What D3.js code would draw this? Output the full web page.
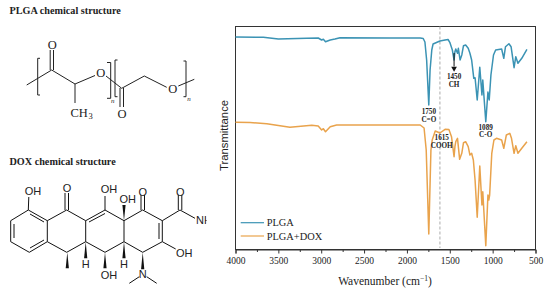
<!DOCTYPE html>
<html>
<head>
<meta charset="utf-8">
<script src="https://cdn.jsdelivr.net/npm/d3@7"></script>
<style>
  html, body { margin: 0; padding: 0; background: #fff; }
  svg { display: block; }
  text { font-family: "Liberation Serif", serif; fill: #222; }
</style>
</head>
<body>
<div id="chart"></div>
<script>
// Spectra: wavenumber (cm-1) and transmittance (arbitrary units, no scale on the figure)
const plgaWave = [4000, 3675, 3500, 3170, 3035, 2995, 2975, 2950, 2895, 2840, 2780, 2200, 1845, 1810, 1790, 1770, 1745, 1730, 1710, 1695, 1615, 1555, 1520, 1500, 1470, 1450, 1440, 1430, 1410, 1400, 1380, 1360, 1340, 1315, 1285, 1265, 1245, 1220, 1205, 1180, 1150, 1125, 1115, 1080, 1055, 1040, 1020, 990, 965, 895, 870, 850, 810, 785, 750, 730, 705, 660, 600];
const plgaT = [212.5, 212.2, 210.5, 211.2, 211.5, 209.5, 210.2, 207.8, 209.5, 210.5, 211.8, 211.5, 211.5, 211, 207.5, 189.5, 144.5, 179.5, 199.5, 205.5, 208.5, 209.5, 210, 207.2, 199.5, 189.5, 197.8, 200.5, 196.2, 201.2, 189.5, 194.5, 203.8, 204.5, 201.2, 196.2, 189.5, 171.2, 171.8, 149.5, 182.2, 154.5, 169.5, 127.8, 157.5, 149.5, 174.5, 194.5, 199.5, 200.5, 191.2, 202.8, 205.8, 202.8, 181.8, 192.8, 186.2, 191.2, 200.2];
const doxWave = [4000, 3830, 3635, 3365, 3110, 3035, 2995, 2975, 2950, 2895, 2820, 2315, 1845, 1800, 1775, 1745, 1720, 1705, 1670, 1615, 1555, 1510, 1480, 1450, 1440, 1430, 1410, 1385, 1360, 1340, 1315, 1285, 1265, 1245, 1225, 1205, 1180, 1150, 1125, 1115, 1080, 1055, 1045, 1035, 1010, 985, 955, 895, 870, 840, 800, 780, 750, 730, 705, 660, 600];
const doxT = [127.2, 127, 125.8, 122.2, 124.2, 123.5, 119.5, 120.8, 117.8, 122.8, 124.5, 124.5, 124.5, 121.5, 99.5, 15.5, 99.5, 109.5, 118.5, 116.5, 120.2, 120, 112.8, 92.8, 102.8, 107.8, 111.2, 90.2, 96.2, 106.8, 107.8, 102.8, 94.5, 96.2, 89.5, 69.5, 32.2, 83.5, 44.5, 57.8, 3.8, 54.5, 49.5, 54.5, 96.2, 109.5, 111.2, 109.5, 101.2, 114.5, 116.2, 111.2, 96.2, 103.8, 96.2, 101.2, 107.8];

const seriesNames = ["PLGA", "PLGA+DOX"];
const seriesColors = ["#3b93b4", "#e9a34c"];
const majorTicks = [4000, 3500, 3000, 2500, 2000, 1500, 1000, 500];
const minorTicks = [3750, 3250, 2750, 2250, 1750, 1250, 750];

// Peak labels: wavenumber, transmittance, first line, second line
const peakWave = [1750, 1450, 1089, 1615];
const peakT = [135.5, 170.5, 120, 109.5];
const peakLine1 = ["1750", "1450", "1089", "1615"];
const peakLine2 = ["C=O", "CH", "C-O", "COOH"];
const peakShift = [0.5, 0, 0.7, 1.8];

// Chemical drawings, plain line segments in page pixels
const plgaBonds = [
  [26.7,85,51.7,70],[50.2,70,50.2,50],[53.5,70,53.5,50],[51.7,70,75,84],[75,84,95,75.5],[75,84,75,103],
  [106,76,121.7,88.3],[120,88,120,107],[123.5,88,123.5,107],[121.7,88.3,144.3,76],[144.3,76,166.7,87.3],[178.3,86,194.3,79.3]
];
const plgaBrackets = [
  [40,58.3,37.7,58.3,37.7,95,40,95],[107,62.5,110.7,62.5,110.7,98.3,107,98.3],
  [117.5,60,115,60,115,96.7,117.5,96.7],[183.5,61,186,61,186,96.7,183.5,96.7]
];
const plgaLabels = [["O",52.3,48.5,12.5],["O",100.7,77,12.5],["CH",70.5,116.5,12.5],["O",122,117.8,12.5],["O",172.7,92.8,12.5]];
const plgaSubs = [["3",90.5,118.5,8.5,"normal"],["n",112.7,103,7,"italic"],["n",189,101,7,"italic"]];

const doxBonds = [
  [28.3,210,47.3,220.7],[47.3,220.7,47.3,241.7],[47.3,241.7,29.3,252.3],[29.3,252.3,10.7,241.7],[10.7,241.7,10.7,220.7],[10.7,220.7,28.3,210],
  [30,214,44,222],[44,240,30,248],[14,238,14,224],[28.3,210,28.8,197],
  [47.3,220.7,66.7,210],[65,210,65,193],[68.5,210,68.5,193],[66.7,210,85.7,220.7],[85.7,220.7,85.7,241.7],[47.3,241.7,66.7,252.3],[66.7,252.3,85.7,241.7],
  [85.7,220.7,105,210],[89,222,105,213.5],[105,210,105,196],[85.7,241.7,105,252.3],[105,252.3,124,241.7],[105,210,124,220.7],[124,220.7,124,241.7],
  [124,220.7,142.7,210],[141,210,141,195],[144.5,210,144.5,195],[124,241.7,142.7,252.3],[142.7,210,162.3,220.7],[142.7,252.3,162.3,241.7],
  [162.3,220.7,162.3,241.7],[159,223,159,239],[162.3,220.7,180,210],[178.3,210,178.3,195],[181.8,210,181.8,195],[180,210,195,218.3],[162.3,241.7,175.7,249],
  [139.3,276.7,129.3,283.3],[146.7,276.7,156.7,283.3]
];
const doxWedges = [
  [124,220.7,124,205],[67.3,252.3,67.3,268.3],[85.7,241.7,85.7,258.3],[105,252.3,105,268.3],[124,241.7,124,258.3],[142.7,252.3,142.7,269.3]
];
const doxLabels = [
  ["OH",33,194.5],["O",67,191.5],["OH",109,193],["OH",127.7,203],["O",142.7,195.5],["O",180.3,195.5],
  ["OH",184.3,257],["H",85.7,268],["OH",109,279],["H",124,268],["N",142.7,278]
];

const svg = d3.select("#chart").append("svg").attr("width", 550).attr("height", 295);

const plot = { left: 235.5, right: 535.5, top: 26.5, bottom: 249.5 };
const x = d3.scaleLinear().domain([4000, 500]).range([plot.left, plot.right]);
const y = d3.scaleLinear().domain([0, 223]).range([plot.bottom, plot.top]);

// Frame
svg.append("rect")
  .attr("x", plot.left).attr("y", plot.top)
  .attr("width", plot.right - plot.left).attr("height", plot.bottom - plot.top)
  .attr("fill", "none").attr("stroke", "#333").attr("stroke-width", 1);

// Dashed guide at 1615
svg.append("line")
  .attr("x1", x(1615)).attr("x2", x(1615))
  .attr("y1", plot.top).attr("y2", plot.bottom - 1.5)
  .attr("stroke", "#aaa").attr("stroke-width", 1).attr("stroke-dasharray", "3,2");

// Axes
const axisMajor = svg.append("g")
  .attr("transform", `translate(0,${plot.bottom})`)
  .call(d3.axisBottom(x).tickValues(majorTicks).tickFormat(d3.format("d")).tickSize(4).tickPadding(4));
axisMajor.select(".domain").attr("stroke", "#333");
axisMajor.selectAll("line").attr("stroke", "#333");
axisMajor.selectAll("text").style("font-size", "9.5px").style("font-family", "Liberation Serif");

const axisMinor = svg.append("g")
  .attr("transform", `translate(0,${plot.bottom})`)
  .call(d3.axisBottom(x).tickValues(minorTicks).tickFormat("").tickSize(2.5));
axisMinor.select(".domain").remove();
axisMinor.selectAll("line").attr("stroke", "#333");

const xTitle = svg.append("text")
  .attr("x", 385).attr("y", 285).attr("text-anchor", "middle").style("font-size", "11.5px");
xTitle.append("tspan").text("Wavenumber (cm");
xTitle.append("tspan").text("\u22121").attr("dy", -4).style("font-size", "7.5px");
xTitle.append("tspan").text(")").attr("dy", 4);

svg.append("text")
  .attr("transform", `translate(227.5,${(plot.top + plot.bottom) / 2 - 2.5}) rotate(-90)`)
  .attr("text-anchor", "middle")
  .style("font-family", "Liberation Sans").style("font-size", "11.3px")
  .text("Transmittance");

// Spectra
const line = d3.line().x((d) => x(d[0])).y((d) => y(d[1]));
const spectra = [d3.zip(plgaWave, plgaT), d3.zip(doxWave, doxT)];

svg.selectAll(".spectrum")
  .data(spectra)
  .enter()
  .append("path")
  .attr("class", "spectrum")
  .attr("d", line)
  .attr("fill", "none")
  .attr("stroke", (d, i) => seriesColors[i])
  .attr("stroke-width", 1.5)
  .attr("stroke-linejoin", "round");

// Peak labels
peakWave.forEach((w, i) => {
  const g = svg.append("g")
    .attr("transform", `translate(${x(w) + peakShift[i]},${y(peakT[i])})`)
    .attr("text-anchor", "middle")
    .style("font-size", "7.2px")
    .style("font-weight", "bold");
  g.append("text").attr("y", 0).text(peakLine1[i]);
  g.append("text").attr("y", 7.8).text(peakLine2[i]);
});

// Arrow above the 1450 label
svg.append("line")
  .attr("x1", x(1450)).attr("x2", x(1450))
  .attr("y1", y(196.5)).attr("y2", y(183))
  .attr("stroke", "#111").attr("stroke-width", 1);
svg.append("path")
  .attr("d", d3.symbol(d3.symbolTriangle, 14))
  .attr("transform", `translate(${x(1450)},${y(181)}) rotate(180)`)
  .attr("fill", "#111");

// Legend
seriesNames.forEach((name, i) => {
  const ly = 222.7 + i * 13.3;
  svg.append("line")
    .attr("x1", 240.7).attr("x2", 264).attr("y1", ly).attr("y2", ly)
    .attr("stroke", seriesColors[i]).attr("stroke-width", 1.2);
  svg.append("text")
    .attr("x", 266.7).attr("y", ly + 3.5)
    .style("font-size", "10.4px")
    .text(name);
});

// Headings
svg.append("text").attr("x", 9.5).attr("y", 14)
  .style("font-size", "10.2px").style("font-weight", "bold").text("PLGA chemical structure");
svg.append("text").attr("x", 9.5).attr("y", 165)
  .style("font-size", "10.2px").style("font-weight", "bold").text("DOX chemical structure");

// PLGA structure
const chem = svg.append("g").attr("stroke", "#222").attr("stroke-width", 1).attr("fill", "none");
chem.selectAll(".plga-bond").data(plgaBonds).enter().append("line")
  .attr("x1", (d) => d[0]).attr("y1", (d) => d[1]).attr("x2", (d) => d[2]).attr("y2", (d) => d[3]);
chem.selectAll(".plga-bracket").data(plgaBrackets).enter().append("polyline")
  .attr("points", (d) => d.join(" "));

svg.selectAll(".plga-label").data(plgaLabels).enter().append("text")
  .attr("x", (d) => d[1]).attr("y", (d) => d[2])
  .attr("text-anchor", (d) => d[0] === "CH" ? "start" : "middle")
  .style("font-size", (d) => `${d[3]}px`)
  .text((d) => d[0]);
svg.selectAll(".plga-sub").data(plgaSubs).enter().append("text")
  .attr("x", (d) => d[1]).attr("y", (d) => d[2])
  .attr("text-anchor", "middle")
  .style("font-size", (d) => `${d[3]}px`)
  .style("font-style", (d) => d[4])
  .text((d) => d[0]);

// DOX structure
const dox = svg.append("g").attr("stroke", "#111").attr("stroke-width", 1).attr("fill", "none");
dox.selectAll("line").data(doxBonds).enter().append("line")
  .attr("x1", (d) => d[0]).attr("y1", (d) => d[1]).attr("x2", (d) => d[2]).attr("y2", (d) => d[3]);
svg.selectAll(".wedge").data(doxWedges).enter().append("path")
  .attr("class", "wedge")
  .attr("d", (d) => `M${d[0]},${d[1]}L${d[2] - 1.6},${d[3]}L${d[2] + 1.6},${d[3]}Z`)
  .attr("fill", "#111");
svg.selectAll(".dox-label").data(doxLabels).enter().append("text")
  .attr("x", (d) => d[1]).attr("y", (d) => d[2])
  .attr("text-anchor", "middle")
  .style("font-family", "Liberation Sans").style("font-size", "11px")
  .text((d) => d[0]);

// NH label is cut off at the panel edge in the figure
svg.append("clipPath").attr("id", "nhClip").append("rect")
  .attr("x", 190).attr("y", 205).attr("width", 16.5).attr("height", 25);
svg.append("text")
  .attr("x", 196).attr("y", 224)
  .attr("clip-path", "url(#nhClip)")
  .style("font-family", "Liberation Sans").style("font-size", "11px")
  .text("NH");
</script>
</body>
</html>
